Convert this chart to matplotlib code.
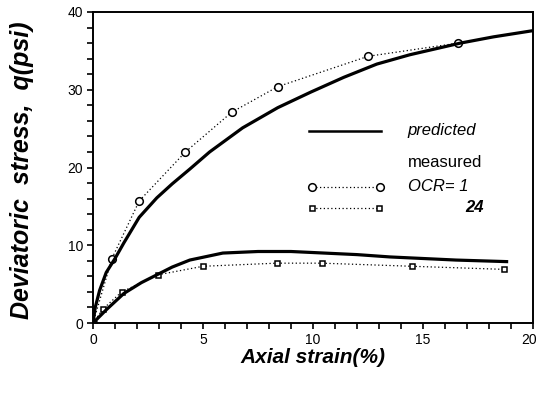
import numpy as np
import matplotlib
matplotlib.use("Agg")
import matplotlib.pyplot as plt
from matplotlib.ticker import MultipleLocator
from matplotlib.transforms import ScaledTranslation

plt.rcParams["font.family"] = ["Liberation Sans", "DejaVu Sans"]

# measured, OCR = 1 (circles)
meas1_x = [0.0, 0.86, 2.1, 4.2, 6.3, 8.4, 12.5, 16.6]
meas1_q = [0.0, 8.3, 15.7, 22.0, 27.1, 30.4, 34.3, 36.0]

# measured, OCR = 24 (squares)
meas24_x = [0.0, 0.45, 1.3, 2.95, 5.0, 8.35, 10.4, 14.5, 18.7]
meas24_q = [0.0, 1.8, 4.0, 6.2, 7.3, 7.7, 7.7, 7.3, 6.9]

# predicted curves
pred1_x = [0.0, 0.1, 0.3, 0.6, 1.0, 1.4, 2.1, 2.9, 3.6, 4.4, 5.3, 6.8, 8.4,
           9.9, 11.4, 12.9, 14.4, 16.7, 18.2, 20.0]
pred1_q = [0.0, 2.0, 4.2, 6.5, 8.3, 10.3, 13.6, 16.1, 17.9, 19.8, 22.0, 25.1,
           27.7, 29.7, 31.6, 33.3, 34.5, 36.0, 36.8, 37.6]

pred24_x = [0.0, 0.6, 1.4, 2.2, 2.9, 3.6, 4.4, 5.9, 7.5, 9.0, 10.5, 12.0,
            13.5, 15.0, 16.5, 18.8]
pred24_q = [0.0, 1.7, 3.8, 5.2, 6.2, 7.2, 8.1, 9.0, 9.2, 9.2, 9.0, 8.8,
            8.5, 8.3, 8.1, 7.9]

fig = plt.figure(figsize=(5.38, 3.93), dpi=100)
ax = fig.add_axes([0.1729, 0.178, 0.8178, 0.7915])

dots = (0, (1, 2))
ax.plot(meas1_x, meas1_q, color="black", lw=0.9, ls=dots, marker="o",
        ms=5.5, mfc="white", mec="black", mew=1.1, zorder=2)
ax.plot(meas24_x, meas24_q, color="black", lw=0.9, ls=dots, marker="s",
        ms=3.6, mfc="white", mec="black", mew=1.1, zorder=2)
ax.plot(pred1_x, pred1_q, color="black", lw=2.3, zorder=3)
ax.plot(pred24_x, pred24_q, color="black", lw=2.3, zorder=3)

# hand-made legend inside the axes
ax.plot([9.8, 13.1], [24.7, 24.7], color="black", lw=1.8)
ax.text(14.3, 24.7, "predicted", style="italic", fontsize=12, va="center")
ax.text(14.3, 20.6, "measured", fontsize=12, va="center")
ax.plot([9.95, 13.05], [17.5, 17.5], color="black", lw=0.9, ls=dots,
        marker="o", ms=5.5, mfc="white", mec="black", mew=1.1)
ax.text(14.3, 17.5, "OCR= 1", style="italic", fontsize=12, va="center")
ax.plot([9.95, 13.0], [14.8, 14.8], color="black", lw=0.9, ls=dots,
        marker="s", ms=3.6, mfc="white", mec="black", mew=1.1)
ax.text(16.9, 14.8, "24", style="italic", weight="bold", fontsize=12,
        va="center")

ax.set_xlim(0, 20)
ax.set_ylim(0, 40)
ax.xaxis.set_major_locator(MultipleLocator(5))
ax.xaxis.set_minor_locator(MultipleLocator(1))
ax.yaxis.set_major_locator(MultipleLocator(10))
ax.yaxis.set_minor_locator(MultipleLocator(2))
ax.tick_params(which="both", direction="out", length=4, width=1.2,
               labelsize=10, pad=3)
for s in ax.spines.values():
    s.set_linewidth(1.4)

ax.set_xlabel("Axial strain(%)", style="italic", weight="bold", fontsize=15,
              labelpad=1)
fig.text(22 / 538, 1 - 170 / 393, "Deviatoric  stress,  q(psi)", rotation=90,
         style="italic", weight="bold", fontsize=18, ha="center", va="center")

# nudge the last x tick label so it stays inside the figure
fig.canvas.draw()
for t in ax.xaxis.get_major_ticks():
    if t.label1.get_text() == "20":
        t.label1.set_transform(t.label1.get_transform() +
                               ScaledTranslation(-4 / 100, 0,
                                                 fig.dpi_scale_trans))

fig.savefig("out.png", dpi=100)
